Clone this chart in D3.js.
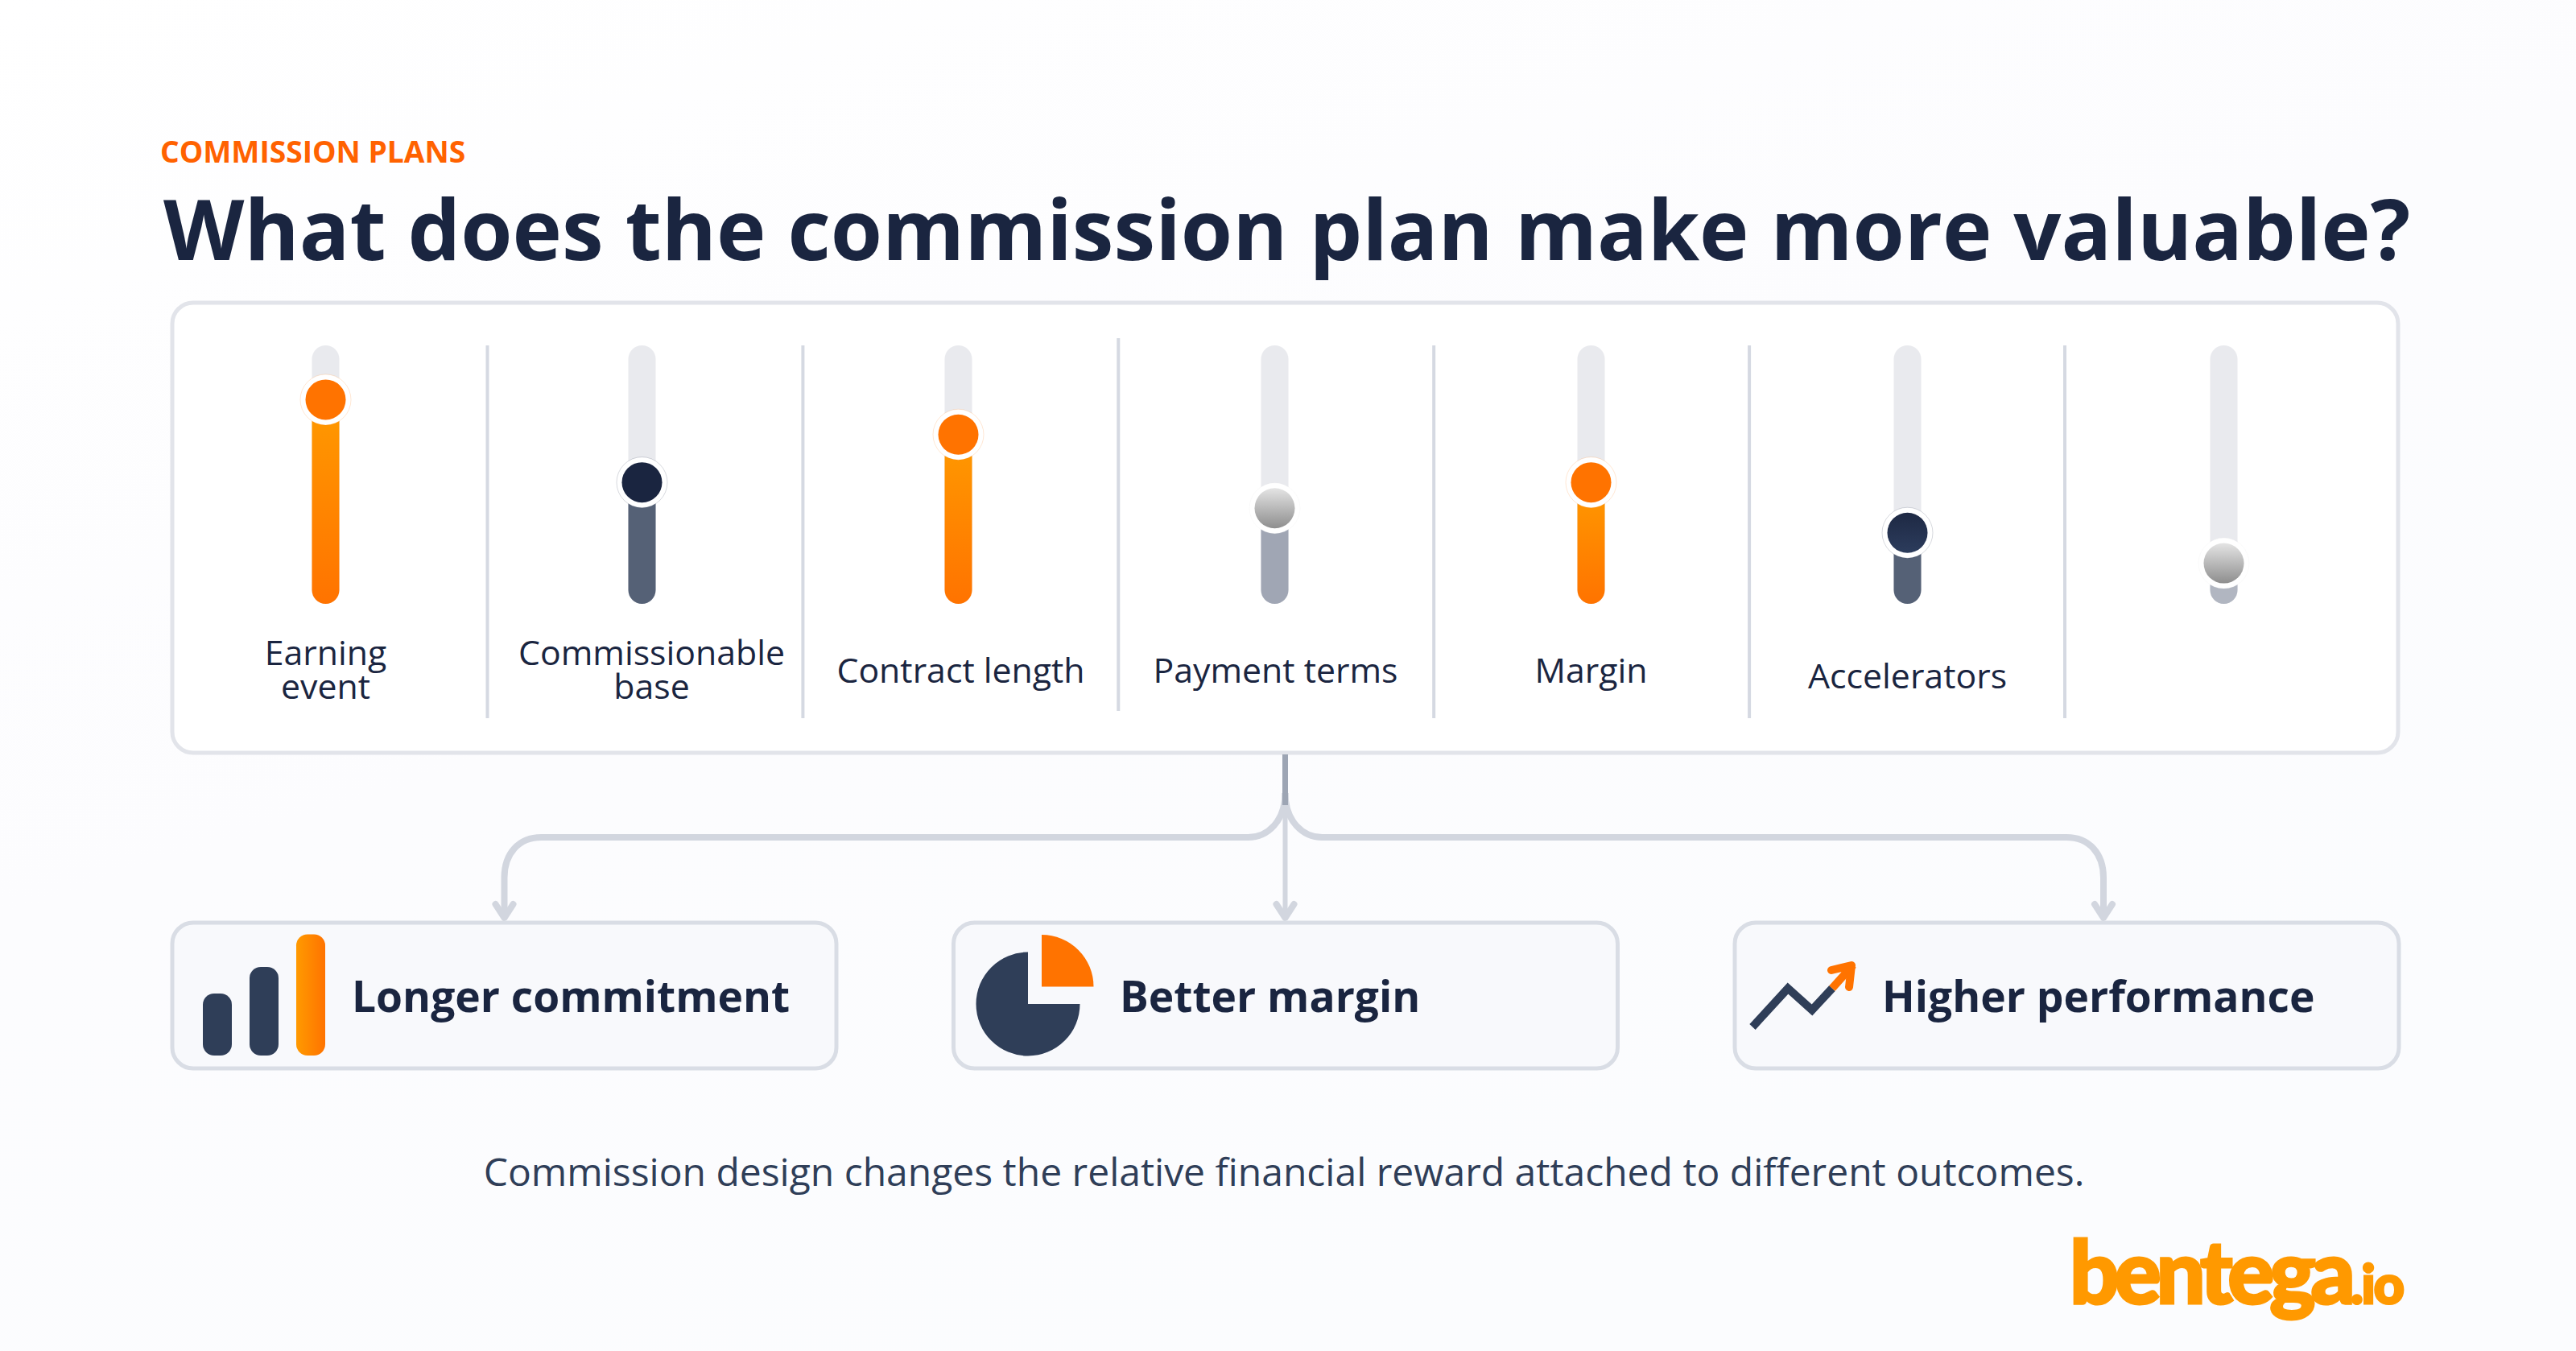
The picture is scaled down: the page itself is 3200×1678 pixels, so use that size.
<!DOCTYPE html>
<html>
<head>
<meta charset="utf-8">
<script src="https://cdn.jsdelivr.net/npm/d3@7"></script>
<style>
  html, body { margin: 0; padding: 0; background: #fff; }
  svg { display: block; }
  text { font-family: "Open Sans", sans-serif; }
</style>
</head>
<body>
<svg id="chart" width="3200" height="1678"></svg>
<script>
// slider values, read from the knob positions (0-100 of the track)
const sliderLines = [["Earning", "event"], ["Commissionable", "base"], ["Contract length"], ["Payment terms"], ["Margin"], ["Accelerators"], []];
const sliderValues = [79, 47, 65.5, 37, 47, 27.5, 15.7];
const sliderTones = ["orange", "navy", "orange", "grey", "orange", "navyLight", "greyLight"];

const outcomeNames = ["Longer commitment", "Better margin", "Higher performance"];
const barIconValues = [42, 60, 82];
const pieIconShares = [75, 25];
const trendIconX = [0, 44, 74, 99];
const trendIconY = [0, 48, 21, 48];
const trendArrowX = [99, 125];
const trendArrowY = [48, 77];

const eyebrow = "COMMISSION PLANS";
const title = "What does the commission plan make more valuable?";
const footnote = "Commission design changes the relative financial reward attached to different outcomes.";

const ink = "#1a2540", slate = "#2f3e58", orange = "#ff7300";
const lineGrey = "#d2d6df", boxLine = "#d9dde5";

function main() {
    var svg = d3.select("#chart");
    var defs = svg.append("defs");

    function gradient(id, stops, x2, y2) {
        var g = defs.append("linearGradient").attr("id", id)
            .attr("x1", 0).attr("y1", 0).attr("x2", x2).attr("y2", y2);
        stops.forEach(function(s, i) {
            g.append("stop").attr("offset", i / (stops.length - 1)).attr("stop-color", s);
        });
    }
    gradient("bg", ["#ffffff", "#fcfcfe", "#fbfcfe"], 0.6, 1);
    gradient("fillOrange", ["#ff9a00", "#ff7300"], 0, 1);
    gradient("knobGrey", ["#e4e4e4", "#8e8e8e"], 0, 1);
    gradient("knobNavy", ["#1e2944", "#2c3c5c"], 0, 1);
    gradient("barOrange", ["#ff9a00", "#ff7300"], 1, 0);

    svg.append("rect").attr("width", 3200).attr("height", 1678).attr("fill", "url(#bg)");

    svg.append("text").attr("x", 199).attr("y", 202)
        .attr("font-size", 37.2).attr("font-weight", 700).attr("fill", "#ff6200")
        .text(eyebrow);
    svg.append("text").attr("x", 203).attr("y", 323)
        .attr("font-size", 103.9).attr("font-weight", 700).attr("fill", ink)
        .text(title);

    // slider card
    svg.append("rect").attr("x", 214).attr("y", 376).attr("width", 2765).attr("height", 559)
        .attr("rx", 26).attr("fill", "#fff").attr("stroke", "#e2e4ea").attr("stroke-width", 5);

    var x = d3.scaleBand().domain(d3.range(sliderValues.length)).range([208, 2959]);
    var y = d3.scaleLinear().domain([0, 100]).range([750, 429]);
    var trackW = 34;
    var fills = { orange: "url(#fillOrange)", navy: "#556176", navyLight: "#556176", grey: "#a0a6b4", greyLight: "#b1b6c1" };
    var knobs = { orange: orange, navy: ink, navyLight: "url(#knobNavy)", grey: "url(#knobGrey)", greyLight: "url(#knobGrey)" };
    var halos = { orange: orange, navy: ink, navyLight: ink, grey: "#e4e4e4", greyLight: "#e4e4e4" };

    // dividers
    var dividerX = d3.scaleLinear().domain([1, 6]).range([605.5, 2565]);
    var dividerShift = [0, 0, -9, 0, 0, 0];
    svg.append("g").selectAll("line")
        .data(d3.range(1, sliderValues.length))
        .enter().append("line")
        .attr("x1", function(d) { return dividerX(d); })
        .attr("x2", function(d) { return dividerX(d); })
        .attr("y1", function(d, i) { return 429 + dividerShift[i]; })
        .attr("y2", function(d, i) { return 892 + dividerShift[i]; })
        .attr("stroke", "#d5d9e2").attr("stroke-width", 4);

    var slider = svg.append("g").selectAll("g")
        .data(sliderValues)
        .enter().append("g")
        .attr("transform", function(d, i) { return "translate(" + (x(i) + x.bandwidth() / 2) + ",0)"; });

    slider.append("rect")
        .attr("x", -trackW / 2).attr("y", y(100)).attr("width", trackW).attr("height", y(0) - y(100))
        .attr("rx", trackW / 2).attr("fill", "#e9eaee");
    slider.append("rect")
        .attr("x", -trackW / 2).attr("y", function(d) { return y(d); })
        .attr("width", trackW).attr("height", function(d) { return y(0) - y(d); })
        .attr("rx", trackW / 2)
        .attr("fill", function(d, i) { return fills[sliderTones[i]]; });
    slider.append("circle")
        .attr("cy", function(d) { return y(d); }).attr("r", 31.5)
        .attr("fill", "#fff").attr("stroke-width", 0.7).attr("stroke-opacity", 0.25)
        .attr("stroke", function(d, i) { return halos[sliderTones[i]]; });
    slider.append("circle")
        .attr("cy", function(d) { return y(d); }).attr("r", 25)
        .attr("fill", function(d, i) { return knobs[sliderTones[i]]; });

    // labels, one text each so the tight two line ones stay together
    var labelBase = [825.5, 825.5, 848, 848, 848, 855, 0];
    var labelShift = [0, 12, 3, 1, 0, 0, 0];
    slider.filter(function(d, i) { return sliderLines[i].length > 0; })
        .append("text")
        .attr("y", function(d, i) { return labelBase[i]; })
        .attr("text-anchor", "middle")
        .attr("font-size", 42.8).attr("fill", ink)
        .each(function(d, i) {
            d3.select(this).selectAll("tspan")
                .data(sliderLines[i])
                .enter().append("tspan")
                .attr("x", labelShift[i])
                .attr("y", function(t, j) { return labelBase[i] + j * 42; })
                .text(function(t) { return t; });
        });

    // connectors
    var trunkX = 1596.5, tipY = 1143, busY = 1040;
    var arrowX = [626.5, trunkX, 2613];
    function branch(ax) {
        if (ax === trunkX) return "M" + trunkX + ",985V" + (tipY - 3);
        var s = ax < trunkX ? -1 : 1;
        return "M" + trunkX + ",985C" + trunkX + ",1020 " + (trunkX + s * 22) + "," + busY + " " + (trunkX + s * 46) + "," + busY +
            "H" + (ax - s * 46) + "C" + (ax - s * 18) + "," + busY + " " + ax + ",1060 " + ax + ",1090V" + (tipY - 3);
    }
    var conn = svg.append("g").attr("fill", "none").attr("stroke", lineGrey);
    conn.selectAll("path.branch").data(arrowX).enter().append("path").attr("class", "branch")
        .attr("d", branch)
        .attr("stroke-width", function(d) { return d === trunkX ? 6 : 8; });
    conn.selectAll("path.head").data(arrowX).enter().append("path").attr("class", "head")
        .attr("d", function(d) { return "M" + (d - 11) + ",1123L" + d + "," + (tipY - 3) + "L" + (d + 11) + ",1123"; })
        .attr("stroke-width", 8).attr("stroke-linecap", "round").attr("stroke-linejoin", "round");
    svg.append("line").attr("x1", trunkX).attr("x2", trunkX).attr("y1", 937).attr("y2", 1000)
        .attr("stroke", "#9da5b4").attr("stroke-width", 7);

    // outcome boxes
    var boxLeft = [214, 1184.5, 2155], boxW = 825;
    var textX = [437, 1391, 2338];
    svg.append("g").selectAll("rect")
        .data(outcomeNames).enter().append("rect")
        .attr("x", function(d, i) { return boxLeft[i]; }).attr("y", 1146)
        .attr("width", boxW).attr("height", 181).attr("rx", 26)
        .attr("fill", "#f8f9fc").attr("stroke", boxLine).attr("stroke-width", 5);
    svg.append("g").selectAll("text")
        .data(outcomeNames).enter().append("text")
        .attr("x", function(d, i) { return textX[i]; }).attr("y", 1257)
        .attr("font-size", 53.3).attr("font-weight", 700).attr("fill", ink)
        .text(function(d) { return d; });

    // bar icon
    var barX = d3.scaleBand().domain(d3.range(3)).range([252, 426]);
    var barY = d3.scaleLinear().domain([0, 82]).range([1311, 1160.5]);
    svg.append("g").selectAll("rect")
        .data(barIconValues).enter().append("rect")
        .attr("x", function(d, i) { return barX(i); }).attr("width", 36)
        .attr("y", function(d) { return barY(d); })
        .attr("height", function(d) { return barY(0) - barY(d); })
        .attr("rx", 14)
        .attr("fill", function(d, i) { return i === 2 ? "url(#barOrange)" : slate; });

    // pie icon
    var pie = d3.pie().sort(null).startAngle(Math.PI / 2).endAngle(Math.PI * 2.5)(pieIconShares);
    var arc = d3.arc().innerRadius(0).outerRadius(64.5);
    svg.append("path").attr("transform", "translate(1277,1247)").attr("d", arc(pie[0])).attr("fill", slate);
    svg.append("path").attr("transform", "translate(1294,1225.5)").attr("d", arc(pie[1])).attr("fill", orange);

    // trend icon
    var tx = d3.scaleLinear().domain([0, 125]).range([2177, 2302]);
    var ty = d3.scaleLinear().domain([0, 77]).range([1275.5, 1198.5]);
    var trendLine = d3.line().x(function(d) { return tx(d[0]); }).y(function(d) { return ty(d[1]); });
    svg.append("path").attr("d", trendLine(d3.zip(trendIconX, trendIconY)))
        .attr("fill", "none").attr("stroke", slate).attr("stroke-width", 10);
    svg.append("path").attr("d", trendLine(d3.zip(trendArrowX, trendArrowY)))
        .attr("fill", "none").attr("stroke", orange).attr("stroke-width", 10);
    svg.append("path").attr("d", "M2275,1205L2300,1199L2297,1226")
        .attr("fill", "none").attr("stroke", orange).attr("stroke-width", 10)
        .attr("stroke-linecap", "round").attr("stroke-linejoin", "round");

    // footnote
    svg.append("text").attr("x", 1595).attr("y", 1473).attr("text-anchor", "middle")
        .attr("font-size", 48).attr("fill", slate).text(footnote);

    // logo
    var logo = svg.append("text").attr("x", 2571).attr("y", 1619)
        .style("font-family", "Lato").attr("font-weight", 900)
        .attr("fill", "#ff9900").attr("stroke", "#ff9900").attr("stroke-width", 3);
    logo.append("tspan").attr("font-size", 108).attr("letter-spacing", -6).text("bentega");
    logo.append("tspan").attr("font-size", 66).attr("letter-spacing", -2).text(".io");
}
main();
</script>
</body>
</html>
